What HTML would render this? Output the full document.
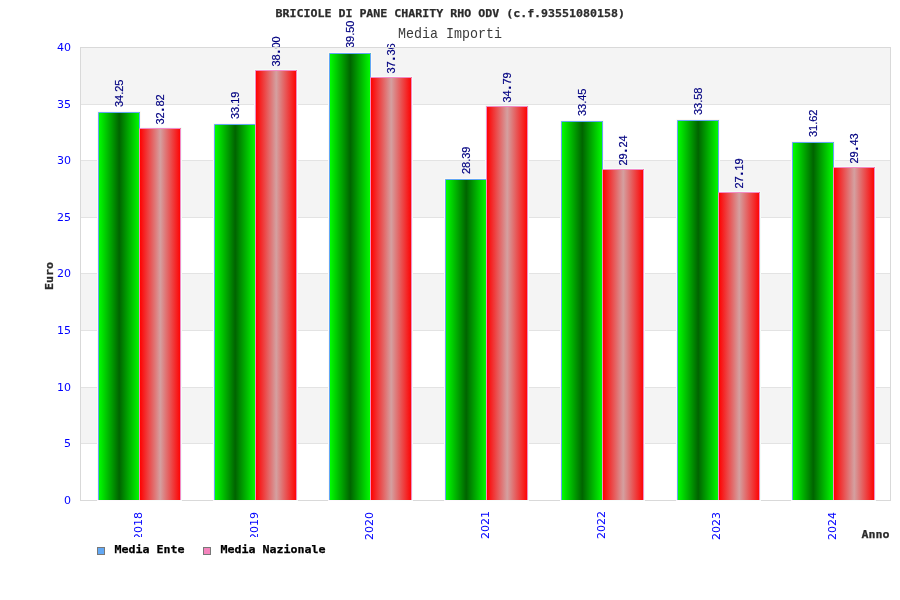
<!DOCTYPE html>
<html lang="it"><head><meta charset="utf-8"><title>BRICIOLE DI PANE CHARITY RHO ODV - Media Importi</title>
<style>html,body{margin:0;padding:0;background:#fff;}body{width:900px;height:600px;overflow:hidden;}svg{display:block;}.ax{font-family:"DejaVu Sans","Liberation Sans",sans-serif;font-size:11px;fill:#0000ff;}.vl{font-family:"Liberation Sans",Arial,sans-serif;font-size:11px;fill:#000080;stroke:#000080;stroke-width:0.18px;}.vw{stroke-width:0.18px;}.dot{font-size:15px;font-weight:bold;stroke:none;}.tb{font-family:"DejaVu Sans Mono","Liberation Mono",monospace;font-weight:bold;font-size:11.2px;fill:#2b2b2b;stroke:#2b2b2b;stroke-width:0.25px;}.lg{font-family:"DejaVu Sans Mono","Liberation Mono",monospace;font-weight:bold;font-size:11.2px;fill:#000;stroke:#000;stroke-width:0.25px;}.st{font-family:"Liberation Mono","DejaVu Sans Mono",monospace;font-size:14.2px;fill:#3a3a3a;}</style></head><body>
<svg width="900" height="600" viewBox="0 0 900 600">
<defs><linearGradient id="gg" x1="0" y1="0" x2="1" y2="0"><stop offset="0" stop-color="#00ff00"/><stop offset="0.5" stop-color="#006400"/><stop offset="1" stop-color="#00ff00"/></linearGradient><linearGradient id="gr" x1="0" y1="0" x2="1" y2="0"><stop offset="0" stop-color="#ff0000"/><stop offset="0.5" stop-color="#d4a0a0"/><stop offset="1" stop-color="#ff0000"/></linearGradient></defs>
<rect x="0" y="0" width="900" height="600" fill="#ffffff"/>
<rect x="80" y="387" width="810" height="56" fill="#f4f4f4"/>
<rect x="80" y="273" width="810" height="57" fill="#f4f4f4"/>
<rect x="80" y="160" width="810" height="57" fill="#f4f4f4"/>
<rect x="80" y="47" width="810" height="57" fill="#f4f4f4"/>
<rect x="80" y="443" width="810" height="1" fill="#e3e3e3"/>
<rect x="80" y="387" width="810" height="1" fill="#e3e3e3"/>
<rect x="80" y="330" width="810" height="1" fill="#e3e3e3"/>
<rect x="80" y="273" width="810" height="1" fill="#e3e3e3"/>
<rect x="80" y="217" width="810" height="1" fill="#e3e3e3"/>
<rect x="80" y="160" width="810" height="1" fill="#e3e3e3"/>
<rect x="80" y="104" width="810" height="1" fill="#e3e3e3"/>
<path d="M97.5 500 V111.5 H140.5 V500" fill="none" stroke="#fdf8f3" stroke-width="1"/>
<path d="M138.5 500 V127.5 H181.5 V500" fill="none" stroke="#f3fdf8" stroke-width="1"/>
<path d="M213.5 500 V123.5 H256.5 V500" fill="none" stroke="#fdf8f3" stroke-width="1"/>
<path d="M254.5 500 V69.5 H297.5 V500" fill="none" stroke="#f3fdf8" stroke-width="1"/>
<path d="M328.5 500 V52.5 H371.5 V500" fill="none" stroke="#fdf8f3" stroke-width="1"/>
<path d="M369.5 500 V76.5 H412.5 V500" fill="none" stroke="#f3fdf8" stroke-width="1"/>
<path d="M444.5 500 V178.5 H487.5 V500" fill="none" stroke="#fdf8f3" stroke-width="1"/>
<path d="M485.5 500 V105.5 H528.5 V500" fill="none" stroke="#f3fdf8" stroke-width="1"/>
<path d="M560.5 500 V120.5 H603.5 V500" fill="none" stroke="#fdf8f3" stroke-width="1"/>
<path d="M601.5 500 V168.5 H644.5 V500" fill="none" stroke="#f3fdf8" stroke-width="1"/>
<path d="M676.5 500 V119.5 H719.5 V500" fill="none" stroke="#fdf8f3" stroke-width="1"/>
<path d="M717.5 500 V191.5 H760.5 V500" fill="none" stroke="#f3fdf8" stroke-width="1"/>
<path d="M791.5 500 V141.5 H834.5 V500" fill="none" stroke="#fdf8f3" stroke-width="1"/>
<path d="M832.5 500 V166.5 H875.5 V500" fill="none" stroke="#f3fdf8" stroke-width="1"/>
<rect x="98.75" y="112" width="41" height="388" fill="url(#gg)"/>
<path d="M98.5 500 V112.5 H139.5 V500" fill="none" stroke="#62a6f4" stroke-width="1"/>
<rect x="139.75" y="128" width="41" height="372" fill="url(#gr)"/>
<path d="M139.5 500 V128.5 H180.5 V500" fill="none" stroke="#f38cc6" stroke-width="1"/>
<rect x="214.75" y="124" width="41" height="376" fill="url(#gg)"/>
<path d="M214.5 500 V124.5 H255.5 V500" fill="none" stroke="#62a6f4" stroke-width="1"/>
<rect x="255.75" y="70" width="41" height="430" fill="url(#gr)"/>
<path d="M255.5 500 V70.5 H296.5 V500" fill="none" stroke="#f38cc6" stroke-width="1"/>
<rect x="329.75" y="53" width="41" height="447" fill="url(#gg)"/>
<path d="M329.5 500 V53.5 H370.5 V500" fill="none" stroke="#62a6f4" stroke-width="1"/>
<rect x="370.75" y="77" width="41" height="423" fill="url(#gr)"/>
<path d="M370.5 500 V77.5 H411.5 V500" fill="none" stroke="#f38cc6" stroke-width="1"/>
<rect x="445.75" y="179" width="41" height="321" fill="url(#gg)"/>
<path d="M445.5 500 V179.5 H486.5 V500" fill="none" stroke="#62a6f4" stroke-width="1"/>
<rect x="486.75" y="106" width="41" height="394" fill="url(#gr)"/>
<path d="M486.5 500 V106.5 H527.5 V500" fill="none" stroke="#f38cc6" stroke-width="1"/>
<rect x="561.75" y="121" width="41" height="379" fill="url(#gg)"/>
<path d="M561.5 500 V121.5 H602.5 V500" fill="none" stroke="#62a6f4" stroke-width="1"/>
<rect x="602.75" y="169" width="41" height="331" fill="url(#gr)"/>
<path d="M602.5 500 V169.5 H643.5 V500" fill="none" stroke="#f38cc6" stroke-width="1"/>
<rect x="677.75" y="120" width="41" height="380" fill="url(#gg)"/>
<path d="M677.5 500 V120.5 H718.5 V500" fill="none" stroke="#62a6f4" stroke-width="1"/>
<rect x="718.75" y="192" width="41" height="308" fill="url(#gr)"/>
<path d="M718.5 500 V192.5 H759.5 V500" fill="none" stroke="#f38cc6" stroke-width="1"/>
<rect x="792.75" y="142" width="41" height="358" fill="url(#gg)"/>
<path d="M792.5 500 V142.5 H833.5 V500" fill="none" stroke="#62a6f4" stroke-width="1"/>
<rect x="833.75" y="167" width="41" height="333" fill="url(#gr)"/>
<path d="M833.5 500 V167.5 H874.5 V500" fill="none" stroke="#f38cc6" stroke-width="1"/>
<text class="vl" transform="translate(123.2,107.1) rotate(-90)">34.25</text>
<text class="vl vw" transform="translate(164.0,124.6) rotate(-90)"><tspan x="0 6">32</tspan><tspan class="dot" x="12.9">.</tspan><tspan x="18 24">82</tspan></text>
<text class="vl" transform="translate(239.2,119.1) rotate(-90)">33.19</text>
<text class="vl vw" transform="translate(280.0,66.6) rotate(-90)"><tspan x="0 6">38</tspan><tspan class="dot" x="12.9">.</tspan><tspan x="18 24">00</tspan></text>
<text class="vl" transform="translate(354.2,48.1) rotate(-90)">39.50</text>
<text class="vl vw" transform="translate(395.0,73.6) rotate(-90)"><tspan x="0 6">37</tspan><tspan class="dot" x="12.9">.</tspan><tspan x="18 24">36</tspan></text>
<text class="vl" transform="translate(470.2,174.1) rotate(-90)">28.39</text>
<text class="vl vw" transform="translate(511.0,102.6) rotate(-90)"><tspan x="0 6">34</tspan><tspan class="dot" x="12.9">.</tspan><tspan x="18 24">79</tspan></text>
<text class="vl" transform="translate(586.2,116.1) rotate(-90)">33.45</text>
<text class="vl vw" transform="translate(627.0,165.6) rotate(-90)"><tspan x="0 6">29</tspan><tspan class="dot" x="12.9">.</tspan><tspan x="18 24">24</tspan></text>
<text class="vl" transform="translate(702.2,115.1) rotate(-90)">33.58</text>
<text class="vl vw" transform="translate(743.0,188.6) rotate(-90)"><tspan x="0 6">27</tspan><tspan class="dot" x="12.9">.</tspan><tspan x="18 24">19</tspan></text>
<text class="vl" transform="translate(817.2,137.1) rotate(-90)">31.62</text>
<text class="vl vw" transform="translate(858.0,163.6) rotate(-90)"><tspan x="0 6">29</tspan><tspan class="dot" x="12.9">.</tspan><tspan x="18 24">43</tspan></text>
<rect x="80.5" y="47.5" width="810" height="453" fill="none" stroke="#d9d9d9" stroke-width="1"/>
<rect x="97" y="500" width="42" height="1" fill="#fcf8fc"/>
<rect x="139" y="500" width="43" height="1" fill="#f8fcfc"/>
<rect x="213" y="500" width="42" height="1" fill="#fcf8fc"/>
<rect x="255" y="500" width="43" height="1" fill="#f8fcfc"/>
<rect x="328" y="500" width="42" height="1" fill="#fcf8fc"/>
<rect x="370" y="500" width="43" height="1" fill="#f8fcfc"/>
<rect x="444" y="500" width="42" height="1" fill="#fcf8fc"/>
<rect x="486" y="500" width="43" height="1" fill="#f8fcfc"/>
<rect x="560" y="500" width="42" height="1" fill="#fcf8fc"/>
<rect x="602" y="500" width="43" height="1" fill="#f8fcfc"/>
<rect x="676" y="500" width="42" height="1" fill="#fcf8fc"/>
<rect x="718" y="500" width="43" height="1" fill="#f8fcfc"/>
<rect x="791" y="500" width="42" height="1" fill="#fcf8fc"/>
<rect x="833" y="500" width="43" height="1" fill="#f8fcfc"/>
<text class="ax" x="71" y="504.1" text-anchor="end">0</text>
<text class="ax" x="71" y="447.1" text-anchor="end">5</text>
<text class="ax" x="71" y="391.1" text-anchor="end">10</text>
<text class="ax" x="71" y="334.1" text-anchor="end">15</text>
<text class="ax" x="71" y="277.1" text-anchor="end">20</text>
<text class="ax" x="71" y="221.1" text-anchor="end">25</text>
<text class="ax" x="71" y="164.1" text-anchor="end">30</text>
<text class="ax" x="71" y="108.1" text-anchor="end">35</text>
<text class="ax" x="71" y="51.1" text-anchor="end">40</text>
<text class="ax" transform="translate(142.3,540.0) rotate(-90)">2018</text>
<text class="ax" transform="translate(258.3,540.0) rotate(-90)">2019</text>
<text class="ax" transform="translate(373.3,540.0) rotate(-90)">2020</text>
<text class="ax" transform="translate(489.3,539.0) rotate(-90)">2021</text>
<text class="ax" transform="translate(605.3,539.0) rotate(-90)">2022</text>
<text class="ax" transform="translate(720.3,540.0) rotate(-90)">2023</text>
<text class="ax" transform="translate(836.3,540.0) rotate(-90)">2024</text>
<rect x="90" y="537" width="250" height="28" fill="#ffffff"/>
<text class="tb" x="275.5" y="17" textLength="349.5" lengthAdjust="spacingAndGlyphs">BRICIOLE DI PANE CHARITY RHO ODV (c.f.93551080158)</text>
<text class="st" x="398" y="38" textLength="104" lengthAdjust="spacingAndGlyphs">Media Importi</text>
<text class="tb" x="861.5" y="538" textLength="28" lengthAdjust="spacingAndGlyphs">Anno</text>
<text class="tb" transform="translate(53,290) rotate(-90)" textLength="28" lengthAdjust="spacingAndGlyphs">Euro</text>
<rect x="97.5" y="547.5" width="7" height="7" fill="#62a8f4" stroke="#787878" stroke-width="1"/>
<text class="lg" x="114.5" y="553" textLength="70" lengthAdjust="spacingAndGlyphs">Media Ente</text>
<rect x="203.5" y="547.5" width="7" height="7" fill="#f584bd" stroke="#787878" stroke-width="1"/>
<text class="lg" x="220.5" y="553" textLength="105" lengthAdjust="spacingAndGlyphs">Media Nazionale</text>
</svg></body></html>
